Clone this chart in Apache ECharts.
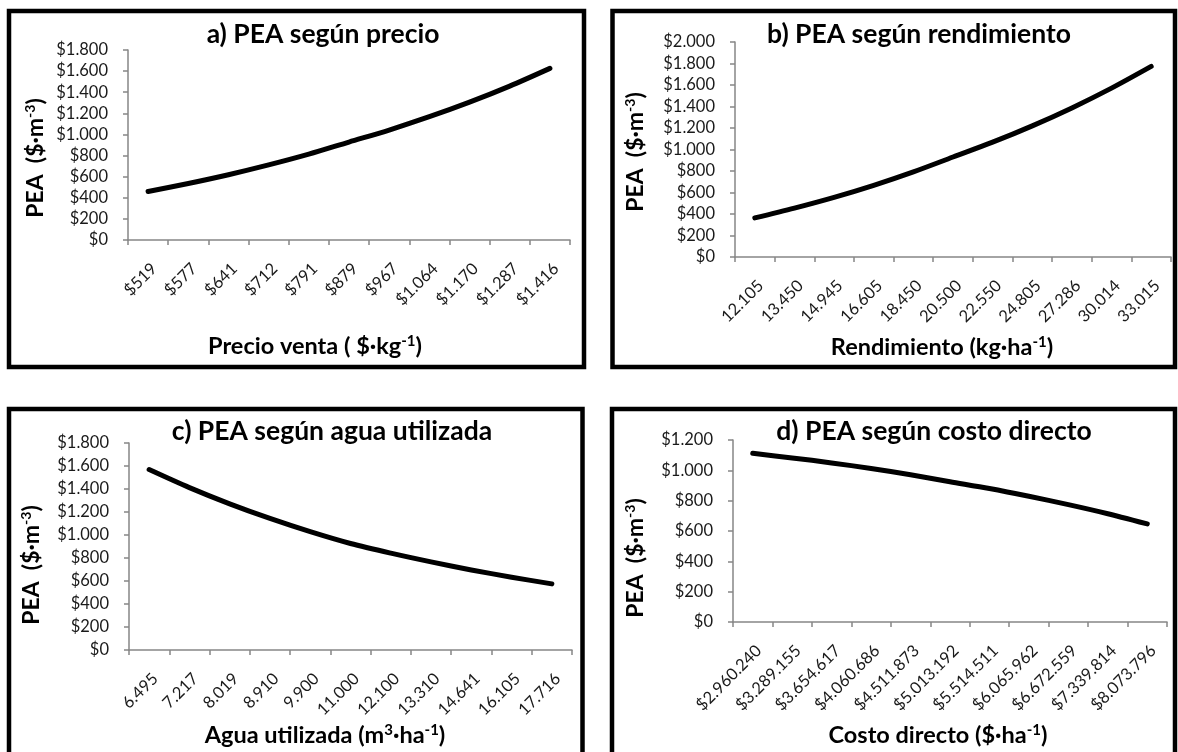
<!DOCTYPE html>
<html>
<head>
<meta charset="utf-8">
<script src="https://cdn.jsdelivr.net/npm/echarts@6/dist/echarts.min.js"></script>
<style>
  html, body { margin: 0; padding: 0; background: #ffffff; }
  #chart { width: 1178px; height: 752px; }
</style>
</head>
<body>
<div id="chart"></div>
<script>
// a) PEA by sale price
const precioLabels = ['$519', '$577', '$641', '$712', '$791', '$879', '$967', '$1.064', '$1.170', '$1.287', '$1.416'];
const peaPrecio = [460, 535, 618, 711, 813, 928, 1042, 1168, 1306, 1458, 1626];

// b) PEA by yield
const rendimientoLabels = ['12.105', '13.450', '14.945', '16.605', '18.450', '20.500', '22.550', '24.805', '27.286', '30.014', '33.015'];
const peaRendimiento = [364, 455, 555, 667, 792, 930, 1068, 1220, 1387, 1571, 1773];

// c) PEA by water used
const aguaLabels = ['6.495', '7.217', '8.019', '8.910', '9.900', '11.000', '12.100', '13.310', '14.641', '16.105', '17.716'];
const peaAgua = [1569, 1412, 1271, 1144, 1029, 926, 842, 766, 696, 633, 575];

// d) PEA by direct cost
const costoLabels = ['$2.960.240', '$3.289.155', '$3.654.617', '$4.060.686', '$4.511.873', '$5.013.192', '$5.514.511', '$6.065.962', '$6.672.559', '$7.339.814', '$8.073.796'];
const peaCosto = [1112, 1082, 1049, 1012, 971, 925, 880, 829, 774, 714, 647];

// y-axis ranges per panel
const yMax = [1800, 2000, 1800, 1200];
const yStep = 200;

const FONT = 'Lato, "Open Sans", sans-serif';
const AXIS_GRAY = '#868686';
const TEXT = '#1a1a1a';

function money(v) {
  if (v >= 1000) {
    return '$' + Math.floor(v / 1000) + '.' + String(v % 1000).padStart(3, '0');
  }
  return '$' + v;
}

const panels = [
  { labels: precioLabels, values: peaPrecio, grid: { left: 128, top: 50, width: 442, height: 190 } },
  { labels: rendimientoLabels, values: peaRendimiento, grid: { left: 735, top: 42, width: 436, height: 215 } },
  { labels: aguaLabels, values: peaAgua, grid: { left: 129, top: 443, width: 443, height: 207 } },
  { labels: costoLabels, values: peaCosto, grid: { left: 733, top: 440, width: 434, height: 182 } }
];

const grids = [], xAxes = [], yAxes = [], series = [];
panels.forEach((p, i) => {
  grids.push(Object.assign({ containLabel: false }, p.grid));
  xAxes.push({
    type: 'category',
    gridIndex: i,
    data: p.labels,
    boundaryGap: true,
    axisLine: { lineStyle: { color: AXIS_GRAY, width: 1.5 } },
    axisTick: { show: true, length: 5, lineStyle: { color: AXIS_GRAY, width: 1.5 } },
    axisLabel: {
      interval: 0, rotate: 45, margin: 20,
      align: 'right', verticalAlign: 'top',
      fontFamily: FONT, fontSize: 16.5, color: TEXT
    },
    splitLine: { show: false }
  });
  yAxes.push({
    type: 'value',
    gridIndex: i,
    min: 0, max: yMax[i], interval: yStep,
    axisLine: { show: true, lineStyle: { color: AXIS_GRAY, width: 1.5 } },
    axisTick: { show: true, length: 5, lineStyle: { color: AXIS_GRAY, width: 1.5 } },
    axisLabel: { margin: 20, fontFamily: FONT, fontSize: 16.5, color: TEXT, formatter: money },
    splitLine: { show: false }
  });
  series.push({
    type: 'line',
    xAxisIndex: i, yAxisIndex: i,
    data: p.values,
    smooth: 0.3,
    showSymbol: false,
    lineStyle: { color: '#000000', width: 5, cap: 'round', join: 'round' }
  });
});

function label(x, y, text, size, rotation) {
  return {
    type: 'text', x: x, y: y, rotation: rotation || 0, silent: true,
    style: {
      text: text, fontFamily: FONT, fontWeight: 'bold', fontSize: size, fill: '#000000',
      align: 'center', verticalAlign: 'middle',
      rich: {
        sup: { fontSize: Math.round(size * 0.62), fontWeight: 'bold', fontFamily: FONT, verticalAlign: 'top', lineHeight: size + 2 },
        b: { fontFamily: FONT, fontWeight: 'bold', fontSize: size, lineHeight: size + 2 }
      }
    }
  };
}

function frame(x, y, w, h) {
  return {
    type: 'rect', silent: true,
    shape: { x: x, y: y, width: w, height: h },
    style: { fill: 'none', stroke: '#000000', lineWidth: 4.5 }
  };
}

const graphic = [
  frame(9, 11, 575, 356),
  frame(612.5, 11, 562.5, 356),
  frame(9, 409, 573.5, 360),
  frame(612, 409, 563, 360),

  label(323, 34, 'a) PEA según precio', 26.5),
  label(919, 34, 'b) PEA según rendimiento', 26.5),
  label(332, 431, 'c) PEA según agua utilizada', 26.5),
  label(934, 431, 'd) PEA según costo directo', 26.5),

  label(315, 346, '{b|Precio venta ( $·kg}{sup|-1}{b|)}', 23.5),
  label(942, 347, '{b|Rendimiento (kg·ha}{sup|-1}{b|)}', 23.5),
  label(325, 735, '{b|Agua utilizada (m}{sup|3}{b|·ha}{sup|-1}{b|)}', 23.5),
  label(938, 735, '{b|Costo directo ($·ha}{sup|-1}{b|)}', 23.5),

  label(36, 158, '{b|PEA  ($·m}{sup|-3}{b|)}', 23, Math.PI / 2),
  label(636, 152, '{b|PEA  ($·m}{sup|-3}{b|)}', 23, Math.PI / 2),
  label(32, 565, '{b|PEA  ($·m}{sup|-3}{b|)}', 23, Math.PI / 2),
  label(636, 558, '{b|PEA  ($·m}{sup|-3}{b|)}', 23, Math.PI / 2)
];

const chart = echarts.init(document.getElementById('chart'), null, { renderer: 'canvas' });
chart.setOption({
  animation: false,
  backgroundColor: '#ffffff',
  grid: grids,
  xAxis: xAxes,
  yAxis: yAxes,
  series: series,
  graphic: graphic
});
</script>
</body>
</html>
